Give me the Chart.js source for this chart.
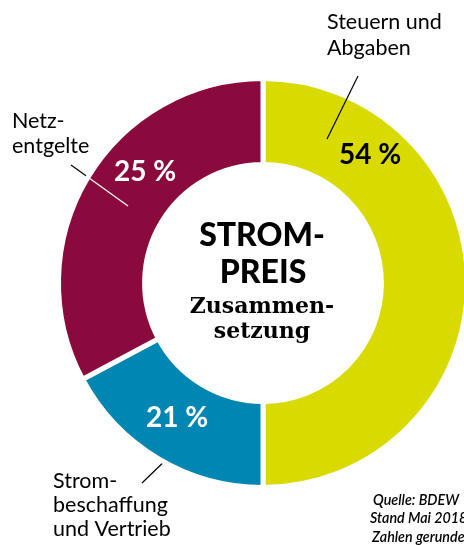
<!DOCTYPE html>
<html>
<head>
<meta charset="utf-8">
<script src="https://cdn.jsdelivr.net/npm/chart.js@4"></script>
<style>
  html, body { margin: 0; padding: 0; background: #ffffff; }
  #wrap { width: 464px; height: 545px; }
</style>
</head>
<body>
<div id="wrap"><canvas id="chartStrom" width="464" height="545"></canvas></div>
<script>
// Anteile wie gezeichnet und Beschriftungen
var kategorien = ['Steuern und Abgaben', 'Strombeschaffung und Vertrieb', 'Netzentgelte'];
var anteileBild = [50, 17.2, 32.8];
var prozentTexte = ['54 %', '21 %', '25 %'];
var farben = ['#d9db00', '#0086b2', '#8a0a3e'];

var labelFont = 'Lato, "DejaVu Sans", sans-serif';

function linie(ctx, a, b, farbe) {
    ctx.strokeStyle = farbe;
    ctx.lineWidth = 1.2;
    ctx.beginPath();
    ctx.moveTo(a[0], a[1]);
    ctx.lineTo(b[0], b[1]);
    ctx.stroke();
}

// Texte und Hinweislinien
var textPlugin = {
    id: 'texte',
    beforeDatasetsDraw: function (chart) {
        var ctx = chart.ctx;
        ctx.save();
        linie(ctx, [71, 165], [128, 206], '#000000');   // Netz
        linie(ctx, [142, 483], [173, 453], '#000000');  // Strom
        ctx.restore();
    },
    afterDatasetsDraw: function (chart) {
        var ctx = chart.ctx;
        var arc = chart.getDatasetMeta(0).data[0];
        ctx.save();

        // weisser Teil der Netz-Linie im Ring
        ctx.save();
        ctx.beginPath();
        ctx.arc(arc.x, arc.y, arc.outerRadius - 2.5, 0, Math.PI * 2);
        ctx.clip();
        linie(ctx, [71, 165], [128, 206], '#ffffff');
        ctx.restore();

        // Steuern-Linie ganz schwarz
        linie(ctx, [358, 76], [327, 139], '#000000');

        // Prozente
        ctx.font = 'bold 28px ' + labelFont;
        ctx.textAlign = 'left';
        ctx.textBaseline = 'alphabetic';
        ctx.fillStyle = '#000000';
        ctx.fillText(prozentTexte[0], 339, 164);
        ctx.fillStyle = '#ffffff';
        ctx.fillText(prozentTexte[2], 114, 181);
        ctx.fillText(prozentTexte[1], 146, 427);

        // Beschriftungen
        ctx.fillStyle = '#000000';
        ctx.font = '21.5px ' + labelFont;
        ctx.fillText('Steuern und', 327, 29);
        ctx.fillText('Abgaben', 327, 55);
        ctx.fillText('Netz-', 12, 128);
        ctx.fillText('entgelte', 12, 153);
        ctx.fillText('Strom-', 53, 488);
        ctx.fillText('beschaffung', 53, 512);
        ctx.fillText('und Vertrieb', 53, 536);

        // Mitte
        ctx.textAlign = 'center';
        ctx.font = '900 32px ' + labelFont;
        ctx.fillText('STROM-', 262, 246);
        ctx.fillText('PREIS', 263, 283);
        ctx.font = 'bold 22px "DejaVu Serif", "Liberation Serif", serif';
        ctx.fillText('Zusammen-', 262, 313);
        ctx.fillText('setzung', 262, 338);

        // Quelle
        ctx.textAlign = 'left';
        ctx.font = 'italic 600 14.3px ' + labelFont;
        ctx.fillText('Quelle: BDEW', 373, 505);
        ctx.fillText('Stand Mai 2018', 370, 523);
        ctx.fillText('Zahlen gerundet', 372, 542);
        ctx.restore();
    }
};

new Chart(document.getElementById('chartStrom'), {
    type: 'doughnut',
    data: {
        labels: kategorien,
        datasets: [{
            data: anteileBild,
            backgroundColor: farben,
            borderColor: '#ffffff',
            borderWidth: 5,
            hoverOffset: 0
        }]
    },
    options: {
        responsive: false,
        animation: false,
        events: [],
        radius: 204.5,
        cutout: '57.9%',
        layout: {
            padding: { left: 62, right: 0, top: 21, bottom: 0 }
        },
        plugins: {
            legend: { display: false },
            tooltip: { enabled: false }
        }
    },
    plugins: [textPlugin]
});
</script>
</body>
</html>
